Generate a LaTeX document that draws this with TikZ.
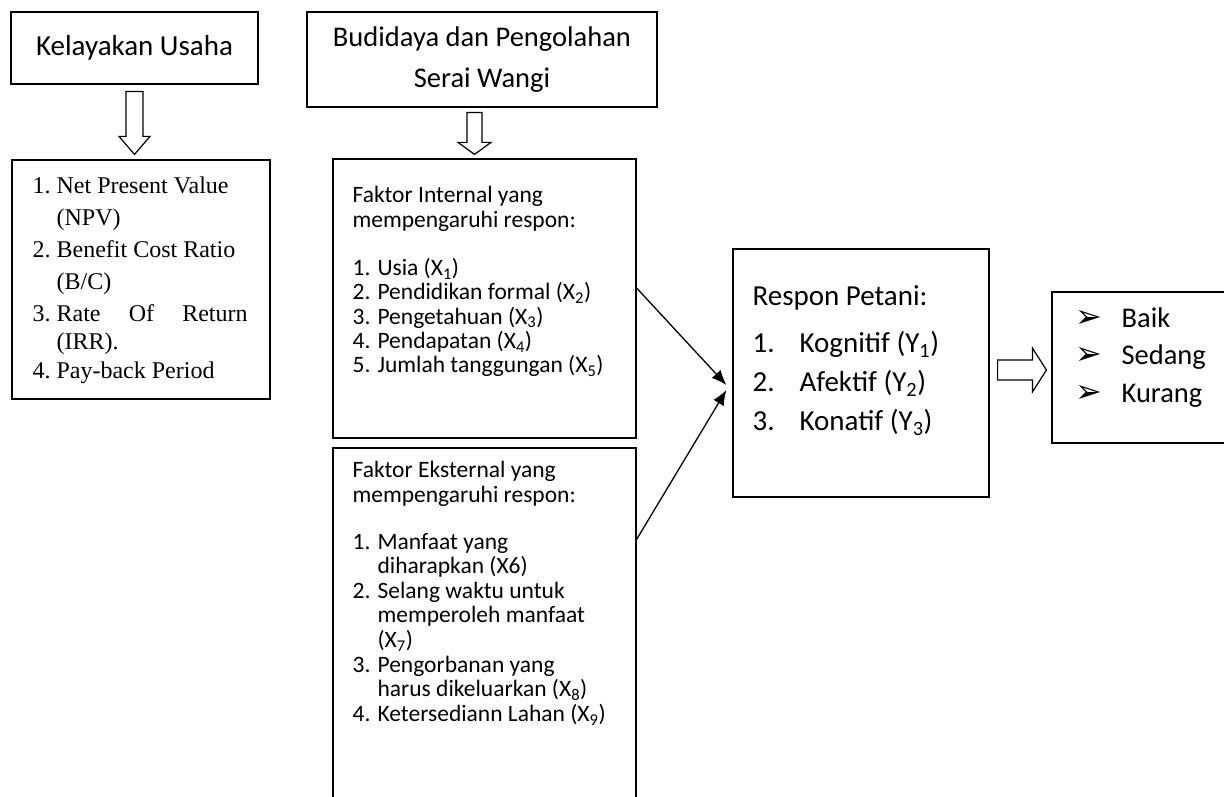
\documentclass[tikz,border=0pt]{standalone}
\usepackage{fontspec}
\setmainfont{Carlito}
\newfontfamily\timesfont{Liberation Serif}
\newfontfamily\dingfont{DejaVu Sans}
\usetikzlibrary{arrows.meta,calc}

\begin{document}
\begin{tikzpicture}[x=1pt, y=1pt,
    box/.style = {draw, rectangle, line width=1.2pt, inner sep=0pt},
    txt/.style = {inner sep=0pt, align=left, anchor=north west},
    link/.style = {line width=1.3pt, -{Latex[length=15pt,width=12pt]}},
    hollow/.style = {draw, line width=1.2pt, line join=miter}]
  \useasboundingbox (0,0) rectangle (1224,-797);

  \node[box, minimum width=247, minimum height=72,
        font=\fontsize{29}{39}\selectfont] (kel) at (134.5,-48) {Kelayakan Usaha};
  \node[box, minimum width=258, minimum height=239] (list) at (141,-279.5) {};
  \node[box, minimum width=350, minimum height=95, align=center,
        font=\fontsize{28.5}{41}\selectfont] (bud) at (482,-59.5)
        {Budidaya dan Pengolahan\\Serai Wangi};
  \node[box, minimum width=303, minimum height=279] (intern) at (484.5,-298.5) {};
  \node[box, minimum width=303, minimum height=362] (extern) at (484.5,-629) {};
  \node[box, minimum width=256, minimum height=248] (respon) at (861,-373) {};
  \node[box, minimum width=180, minimum height=151] (rbox) at (1142,-367.5) {};

  \node[txt, font=\timesfont\fontsize{24}{32}\selectfont] (listtext)
    at ([shift={(21,-17)}]list.north west)
    {\makebox[24pt][l]{1.}Net Present Value\\
     \hspace*{24pt}(NPV)\\
     \makebox[24pt][l]{2.}Benefit Cost Ratio\\
     \hspace*{24pt}(B/C)\\
     \makebox[24pt][l]{3.}\makebox[191pt][s]{Rate Of Return}\\[-4pt]
     \hspace*{24pt}(IRR).\\[-3pt]
     \makebox[24pt][l]{4.}Pay-back Period};

  \node[txt, font=\fontsize{23.5}{24.3}\selectfont] (interntext)
    at ([shift={(20,-28)}]intern.north west)
    {Faktor Internal yang\\
     mempengaruhi respon:\\[24pt]
     1. Usia (X\textsubscript{1})\\
     2. Pendidikan formal (X\textsubscript{2})\\
     3. Pengetahuan (X\textsubscript{3})\\
     4. Pendapatan (X\textsubscript{4})\\
     5. Jumlah tanggungan (X\textsubscript{5})};

  \node[txt, font=\fontsize{23.5}{24.6}\selectfont] (externtext)
    at ([shift={(20,-14)}]extern.north west)
    {Faktor Eksternal yang\\
     mempengaruhi respon:\\[22pt]
     \makebox[25pt][l]{1.}Manfaat yang\\
     \hspace*{25pt}diharapkan (X6)\\
     \makebox[25pt][l]{2.}Selang waktu untuk\\
     \hspace*{25pt}memperoleh manfaat\\
     \hspace*{25pt}(X\textsubscript{7})\\
     \makebox[25pt][l]{3.}Pengorbanan yang\\
     \hspace*{25pt}harus dikeluarkan (X\textsubscript{8})\\
     \makebox[25pt][l]{4.}Ketersediann Lahan (X\textsubscript{9})};

  \node[txt, font=\fontsize{29}{39}\selectfont] (respontext)
    at ([shift={(20,-37)}]respon.north west)
    {Respon Petani:\\[8pt]
     \makebox[47pt][l]{1.}Kognitif (Y\textsubscript{1})\\
     \makebox[47pt][l]{2.}Afektif (Y\textsubscript{2})\\
     \makebox[47pt][l]{3.}Konatif (Y\textsubscript{3})};

  \node[txt, font=\fontsize{28.5}{37.5}\selectfont] (rboxtext)
    at ([shift={(24,-16)}]rbox.north west)
    {\makebox[46pt][l]{\dingfont\fontsize{32}{32}\selectfont ➢}Baik\\
     \makebox[46pt][l]{\dingfont\fontsize{32}{32}\selectfont ➢}Sedang\\
     \makebox[46pt][l]{\dingfont\fontsize{32}{32}\selectfont ➢}Kurang};

  \draw[hollow] ($(kel.south)+(-8.5,-7)$) -- ($(kel.south |- list.north)+(-8.5,23)$)
    -- ($(kel.south |- list.north)+(-15.5,23)$) -- ($(kel.south |- list.north)+(0,5)$)
    -- ($(kel.south |- list.north)+(15.5,23)$) -- ($(kel.south |- list.north)+(8.5,23)$)
    -- ($(kel.south)+(8.5,-7)$) -- cycle;
  \draw[hollow] ($(bud.south)+(-15,-5)$) -- ($(bud.south |- intern.north)+(-15,16)$)
    -- ($(bud.south |- intern.north)+(-24,16)$) -- ($(bud.south |- intern.north)+(-7.5,4)$)
    -- ($(bud.south |- intern.north)+(9,16)$) -- ($(bud.south |- intern.north)+(0,16)$)
    -- ($(bud.south)+(0,-5)$) -- cycle;
  \draw[hollow] ($(respon.east)+(8,13)$) -- ($(respon.east -| rbox.west)+(-19,13)$)
    -- ($(respon.east -| rbox.west)+(-19,25)$) -- ($(respon.east -| rbox.west)+(-5,3)$)
    -- ($(respon.east -| rbox.west)+(-19,-19)$) -- ($(respon.east -| rbox.west)+(-19,-7)$)
    -- ($(respon.east)+(8,-7)$) -- cycle;

  \draw[link] ([yshift=10.5pt]intern.east) -- ([shift={(-6,-12)}]respon.west);
  \draw[link] ([yshift=-92pt]extern.north east) -- ([shift={(-6,-17)}]respon.west);
\end{tikzpicture}
\end{document}
